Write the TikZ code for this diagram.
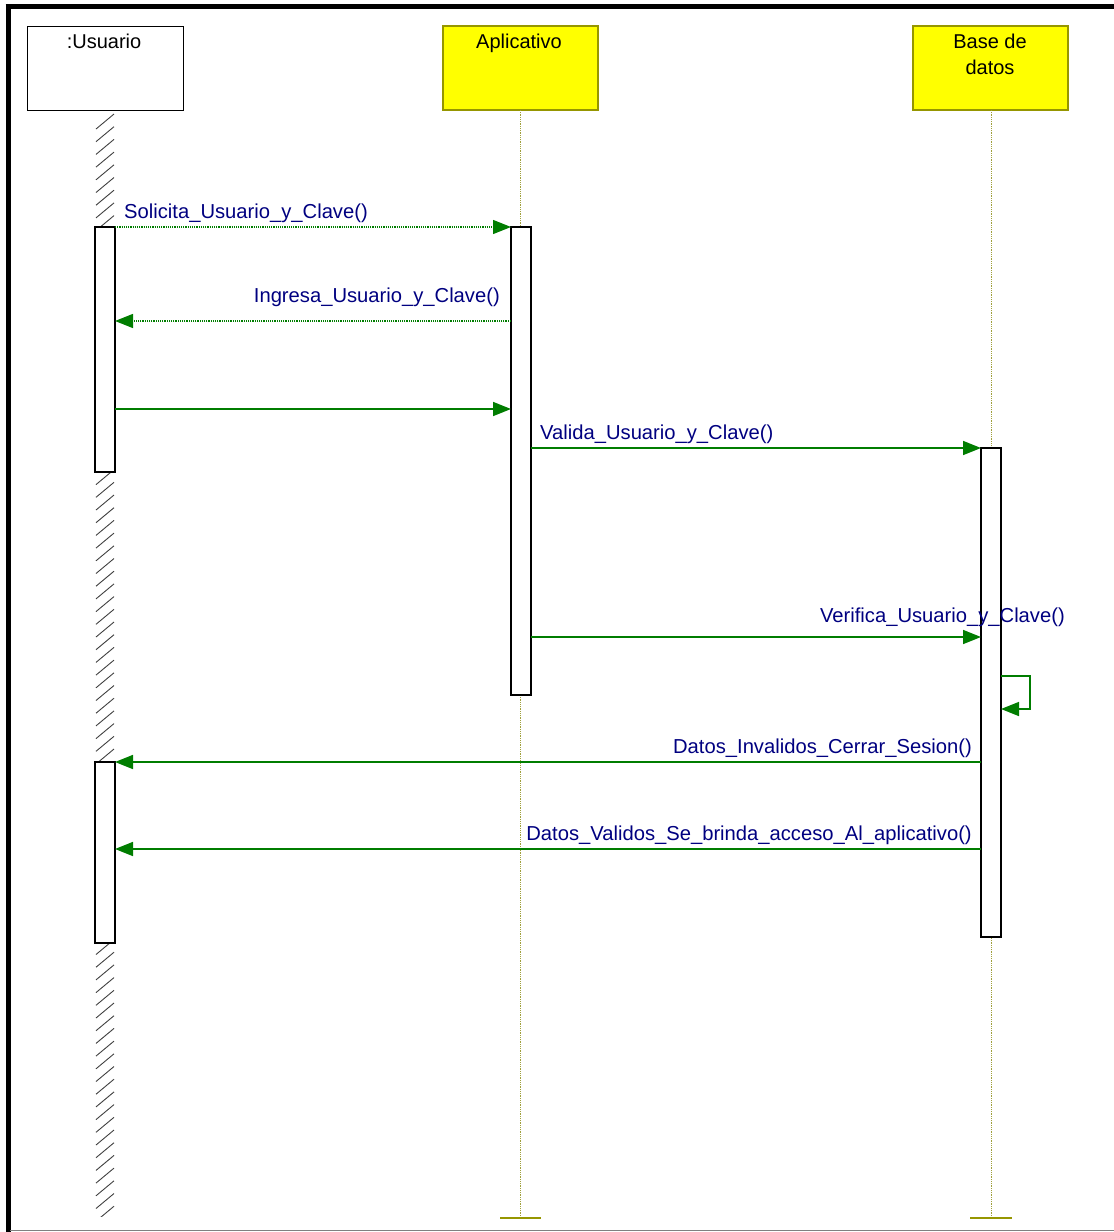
\documentclass[tikz,border=0pt]{standalone}
\usepackage{fontspec}
\setmainfont{Liberation Sans}
\usetikzlibrary{arrows.meta}
\definecolor{msggreen}{RGB}{0,125,0}
\definecolor{msgnavy}{RGB}{0,0,128}
\definecolor{boxyellow}{RGB}{255,255,0}
\definecolor{boxolive}{RGB}{150,150,0}
\definecolor{lifeolive}{RGB}{160,160,60}
\tikzset{
  lbl/.style={text=msgnavy, font=\fontsize{20.2}{22}\selectfont, inner sep=0pt},
  headtext/.style={text=black, font=\fontsize{20}{26}\selectfont, inner sep=0pt, align=center},
  objbox/.style={draw=black, line width=1pt, fill=white, minimum width=156pt, minimum height=84pt, inner sep=0pt, outer sep=0pt},
  ybox/.style={draw=boxolive, line width=1.2pt, fill=boxyellow, minimum width=155pt, minimum height=84pt, inner sep=0pt, outer sep=0pt},
  actbox/.style={draw=black, line width=1.2pt, fill=white, minimum width=20pt, inner sep=0pt, outer sep=0pt},
  lifeline/.style={draw=lifeolive, line width=0.8pt, densely dotted},
  endbar/.style={draw=boxolive, line width=2.8pt},
  msg/.style={draw=msggreen, line width=1.6pt, -{Triangle[length=18pt,width=14pt]}},
  msgdot/.style={draw=msggreen, line width=1.2pt, densely dotted, -{Triangle[length=18pt,width=14pt]}},
  hatch/.style={draw=black!75, line width=0.9pt},
}
\begin{document}
\begin{tikzpicture}[x=1pt,y=-1pt]
\useasboundingbox (0,0) rectangle (1114,1232);
% frame
\draw[line width=5pt] (8,4) -- (8,1232);
\draw[line width=5pt] (5.5,6.5) -- (1114,6.5);
\draw[black!50, line width=1.5pt] (10,1230.5) -- (1114,1230.5);

% object boxes
\node[objbox, anchor=north west] (usr) at (27,26) {};
\node[ybox, anchor=north west] (app) at (443,26) {};
\node[ybox, anchor=north west] (db) at (913,26) {};
\node[headtext, anchor=north] (usrt) at (104,33.5) {:Usuario};
\node[headtext, anchor=north] (appt) at (519,33.5) {Aplicativo};
\node[headtext, anchor=north] (dbt) at (990,33.5) {Base de\\datos};

% lifelines
\coordinate (append) at (520.5,1218);
\coordinate (dbend) at (991,1218);
\draw[lifeline] (app.south -| append) -- (append);
\draw[lifeline] (db.south -| dbend) -- (dbend);
\draw[endbar] (500,1218) -- (541,1218);
\draw[endbar] (970,1218) -- (1012,1218);

% hatched lifeline of user
\begin{scope}
  \clip (95,110) rectangle (115,1216);
  \foreach \i in {0,...,90}
    \draw[hatch] (96,{114+12.7*\i+15}) -- (114,{114+12.7*\i});
\end{scope}

% activations
\node[actbox, anchor=north west, minimum height=245pt] (u1) at (95,227) {};
\node[actbox, anchor=north west, minimum height=181pt] (u2) at (95,762) {};
\node[actbox, anchor=north west, minimum height=468pt] (a1) at (511,227) {};
\node[actbox, anchor=north west, minimum height=489pt] (b1) at (981,448) {};

% messages
\draw[msgdot] (u1.north east) -- (a1.north west);
\node[lbl, anchor=base west] (l1) at (124,218) {Solicita\_Usuario\_y\_Clave()};

\draw[msgdot] (a1.west |- 0,321) -- (u1.east |- 0,321);
\node[lbl, anchor=base east] (l2) at (500,302) {Ingresa\_Usuario\_y\_Clave()};

\draw[msg] (u1.east |- 0,409) -- (a1.west |- 0,409);

\draw[msg] (a1.east |- 0,448) -- (b1.north west);
\node[lbl, anchor=base west] (l4) at (540,439) {Valida\_Usuario\_y\_Clave()};

\draw[msg] (a1.east |- 0,637) -- (b1.west |- 0,637);
\node[lbl, anchor=base east] (l5) at (1065,622) {Verifica\_Usuario\_y\_Clave()};

\draw[msg] (b1.east |- 0,676) -- (1030,676) -- (1030,709) -- (b1.east |- 0,709);

\draw[msg] (b1.west |- 0,762) -- (u2.north east);
\node[lbl, anchor=base east] (l7) at (972,753) {Datos\_Invalidos\_Cerrar\_Sesion()};

\draw[msg] (b1.west |- 0,849) -- (u2.east |- 0,849);
\node[lbl, anchor=base east] (l8) at (972,840) {Datos\_Validos\_Se\_brinda\_acceso\_Al\_aplicativo()};
\end{tikzpicture}
\end{document}
